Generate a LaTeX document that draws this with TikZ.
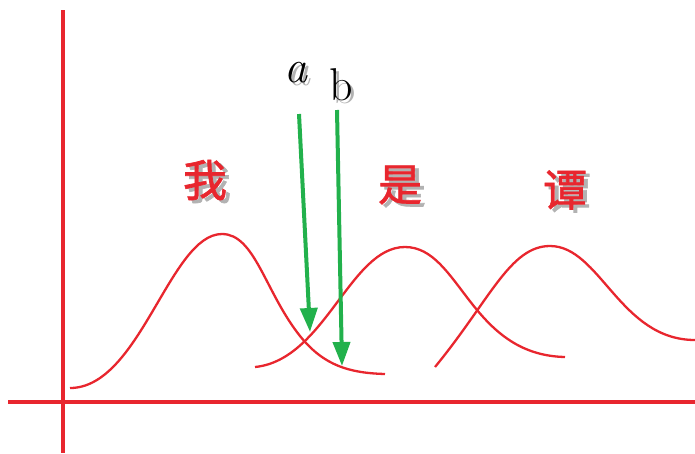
\documentclass[tikz,border=0pt]{standalone}
\usepackage{fontspec}
\newfontfamily\cjk[FakeBold=1.5]{Noto Sans CJK SC}
\usetikzlibrary{arrows.meta}
\definecolor{axred}{HTML}{E8262E}
\definecolor{arrgreen}{HTML}{22B14C}
\tikzset{
  axis/.style={axred, line width=3.5pt},
  curve/.style={axred, line width=2.3pt},
  garrow/.style={arrgreen, line width=4pt, -{Triangle[width=17pt,length=24pt]}},
  hanzi/.style={font=\cjk\fontsize{44}{44}\selectfont, text=axred},
  hshadow/.style={font=\cjk\fontsize{44}{44}\selectfont, text=black!30},
  letter/.style={font=\fontsize{46}{46}\selectfont, text=black},
  lshadow/.style={font=\fontsize{46}{46}\selectfont, text=black!30}
}
\begin{document}
\begin{tikzpicture}[x=1pt,y=-1pt]
\useasboundingbox (0,0) rectangle (695,453);
% axes
\draw[axis] (8,402) -- (695,402);
\draw[axis] (63,10) -- (63,453);
% curves
\draw[curve] (70,388) .. controls (140,388) and (170,234) .. (222,234)
  .. controls (255,234) and (265,292) .. (300,336)
  .. controls (324,366) and (350,373) .. (385,374);
\draw[curve] (255,367) .. controls (325,360) and (350,247) .. (405,247)
  .. controls (460,247) and (470,355) .. (565,357);
\draw[curve] (435,367) .. controls (490,300) and (510,246) .. (550,246)
  .. controls (600,246) and (620,340) .. (695,340);
% arrows
\coordinate (a1) at (299,114);
\coordinate (a2) at (310,332);
\coordinate (b1) at (337,110);
\coordinate (b2) at (342,366);
\draw[garrow] (a1) -- (a2);
\draw[garrow] (b1) -- (b2);
% letters
\node[lshadow] at (299,76) {\itshape a};
\node[letter] (la) at (296,73) {\itshape a};
\node[lshadow] at (344,88) {b};
\node[letter] (lb) at (341,85) {b};
% chinese
\node[hshadow] at (209,183) {我};
\node[hanzi] (c1) at (205,180) {我};
\node[hshadow] at (404,188) {是};
\node[hanzi] (c2) at (400,185) {是};
\node[hshadow] at (569,193) {谭};
\node[hanzi] (c3) at (565,190) {谭};
\end{tikzpicture}
\end{document}
